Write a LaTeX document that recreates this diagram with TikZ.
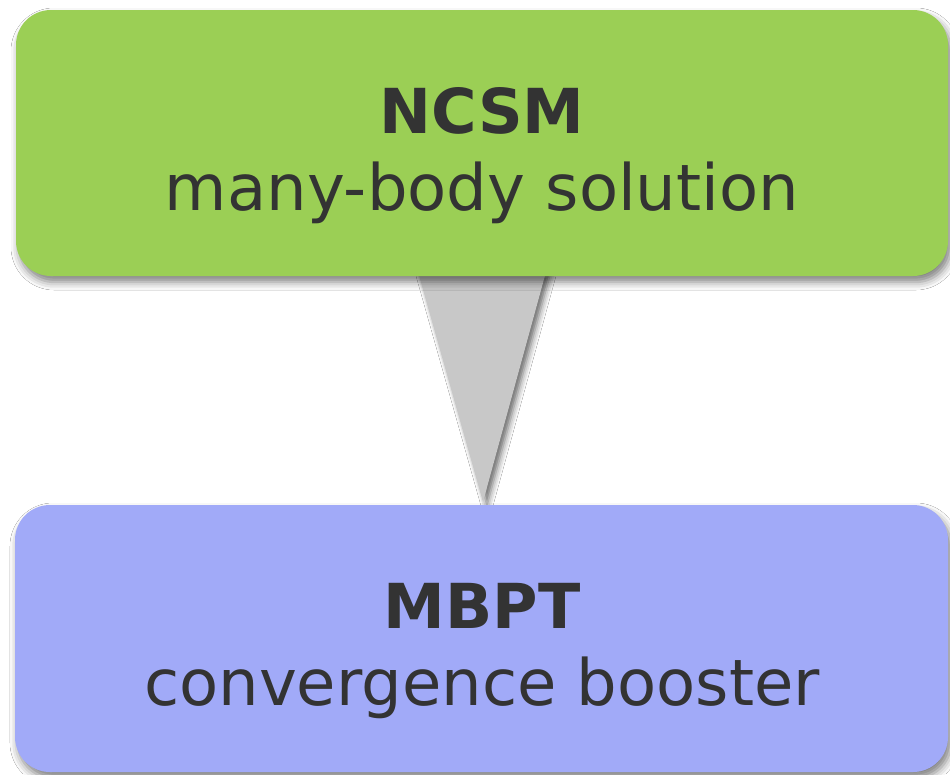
\documentclass[tikz,border=0pt]{standalone}
\usepackage{fontspec}
\setmainfont{DejaVu Sans}
\usetikzlibrary{shadows.blur,calc}
\definecolor{boxgreen}{HTML}{9BCF55}
\definecolor{boxblue}{HTML}{A1AAF8}
\definecolor{conngrey}{HTML}{C8C8C8}
\definecolor{txt}{HTML}{333333}
\tikzset{
  panel/.style={rounded corners=35pt, minimum width=932pt, minimum height=266pt, inner sep=0pt,
    blur shadow={shadow xshift=3pt, shadow yshift=-6pt, shadow blur radius=8pt, shadow opacity=50}},
  titletext/.style={text=txt, font=\bfseries\fontsize{62}{62}\selectfont, anchor=base, inner sep=0pt},
  subtext/.style={text=txt, font=\fontsize{64}{64}\selectfont, anchor=base, inner sep=0pt},
}
\begin{document}
\begin{tikzpicture}[x=1pt,y=-1pt]
\useasboundingbox[fill=white] (0,0) rectangle (950,774);
% connector (drawn first, under boxes)
\coordinate (tl) at (418,272);
\coordinate (tr) at (546,272);
\coordinate (apex) at (483,502);
\fill[conngrey, blur shadow={shadow xshift=4pt, shadow yshift=-3pt, shadow blur radius=6pt, shadow opacity=60}] (tl) -- (tr) -- (apex) -- cycle;
\node[panel, fill=boxgreen] (top) at (482,143) {};
\node[panel, fill=boxblue, minimum width=933pt, minimum height=267pt] (bottom) at (481.5,638.5) {};
\node[titletext] (t1) at (482,133) {NCSM};
\node[subtext] (t2) at (482,210) {many-body solution};
\node[titletext] (b1) at (482,628) {MBPT};
\node[subtext] (b2) at (482,705) {convergence booster};
\end{tikzpicture}
\end{document}
